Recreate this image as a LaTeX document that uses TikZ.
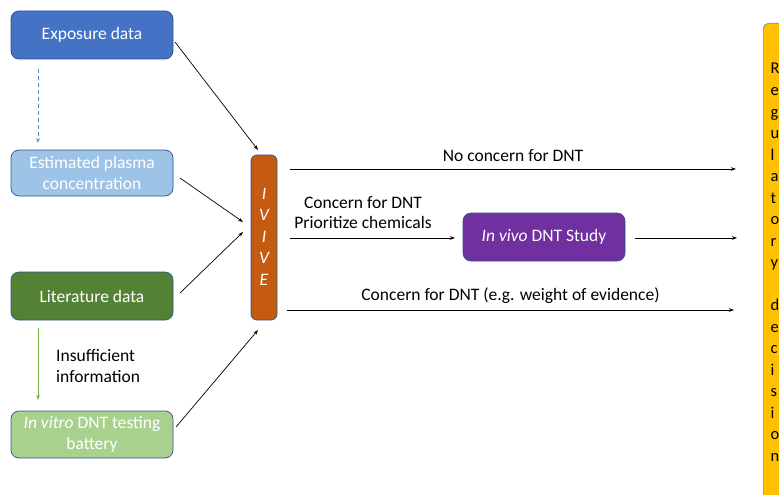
\documentclass[tikz,border=0pt]{standalone}
\usepackage{fontspec}
\setmainfont{Carlito}
\usetikzlibrary{arrows.meta}
\definecolor{cblue}{HTML}{4472C4}
\definecolor{clblue}{HTML}{9DC3E6}
\definecolor{cdgreen}{HTML}{548235}
\definecolor{clgreen}{HTML}{A9D18E}
\definecolor{corange}{HTML}{C55A11}
\definecolor{cpurple}{HTML}{7030A0}
\definecolor{cyellow}{HTML}{FFC000}
\definecolor{cborder}{HTML}{2F528F}
\definecolor{cgreenarrow}{HTML}{70AD47}
\newcommand{\myfs}{\fontsize{17.5}{21.5}\selectfont}
\tikzset{
  fnt/.style={font=\myfs},
  box/.style={draw=cborder, line width=0.7pt, rounded corners=8pt, text=white, align=center, fnt, inner sep=0pt},
  arr/.style={-{Stealth[length=5pt,width=3.5pt]}, line width=0.7pt, black},
  lbl/.style={fnt, inner sep=0pt}
}
\begin{document}
\begin{tikzpicture}[x=1pt,y=-1pt]
\useasboundingbox (0,0) rectangle (779,495);
% boxes
\node[box, fill=cblue, minimum width=162pt, minimum height=48pt] (exp) at (92,35) {Exposure data};
\node[box, fill=clblue, minimum width=162pt, minimum height=46pt] (plas) at (92,173) {Estimated plasma\\concentration};
\node[box, fill=cdgreen, minimum width=162pt, minimum height=48pt] (lit) at (92,296) {Literature data};
\node[box, fill=clgreen, minimum width=162pt, minimum height=47pt] (vitro) at (92,434.5) {\textit{In vitro} DNT testing\\battery};
\node[box, fill=corange, rounded corners=6pt, minimum width=26pt, minimum height=165pt] (ivive) at (264,237.5) {};
\foreach \t/\yy in {I/194,V/215,I/237,V/258,E/280}
  \node[text=white, font=\myfs\itshape, inner sep=0pt] at (264,\yy) {\t};
\node[box, fill=cpurple, minimum width=162pt, minimum height=48pt] (vivo) at (544,237) {\textit{In vivo} DNT Study};
\node[draw=cborder!70, fill=cyellow, line width=0.7pt, rounded corners=5pt, minimum width=40pt, minimum height=500pt, anchor=north west, inner sep=0pt] (reg) at (763,23) {};
\foreach \t [count=\i from 0] in {R,e,g,u,l,a,t,o,r,y,{},d,e,c,i,s,i,o,n}
  \node[font=\fontsize{16.5}{20}\selectfont, inner sep=0pt, anchor=base west] at (770.5,74+21.5*\i) {\t};
% coordinates
\coordinate (ivA) at (258,150);
\coordinate (ivB) at (243,222);
\coordinate (ivC) at (243,232);
\coordinate (ivD) at (258,330);
\coordinate (e1s) at (290,169);
\coordinate (e1e) at (736,169);
\coordinate (e2s) at (290,238);
\coordinate (e2m) at (455,238);
\coordinate (e2r) at (635,238);
\coordinate (e2e) at (737,238);
\coordinate (e3s) at (287,310);
\coordinate (e3e) at (734,310);
\coordinate (exA) at (175,42);
\coordinate (plA) at (180,178);
\coordinate (liA) at (180,293);
\coordinate (viA) at (176,427);
% input arrows
\draw[arr] (exA) -- (ivA);
\draw[arr] (plA) -- (ivB);
\draw[arr] (liA) -- (ivC);
\draw[arr] (viA) -- (ivD);
\coordinate (d1) at (38,69);
\coordinate (d2) at (38,143);
\coordinate (g1) at (38,328);
\coordinate (g2) at (38,400);
\draw[-{Stealth[length=5pt,width=3.5pt]}, cblue!85, dash pattern=on 4pt off 3pt, line width=0.8pt] (d1) -- (d2);
\draw[-{Stealth[length=5pt,width=3.5pt]}, cgreenarrow, line width=0.8pt] (g1) -- (g2);
\node[lbl, align=left, anchor=west] (insuf) at (56,366) {Insufficient\\information};
% outputs
\draw[arr] (e1s) -- node[above=7pt, lbl]{No concern for DNT} (e1e);
\draw[arr] (e2s) -- (e2m);
\node[lbl, align=center, anchor=south, font=\fontsize{17.5}{20}\selectfont] (conc) at (363,229) {Concern for DNT\\Prioritize chemicals};
\draw[arr] (e2r) -- (e2e);
\draw[arr] (e3s) -- node[above=6pt, lbl]{Concern for DNT (e.g. weight of evidence)} (e3e);
\end{tikzpicture}
\end{document}
